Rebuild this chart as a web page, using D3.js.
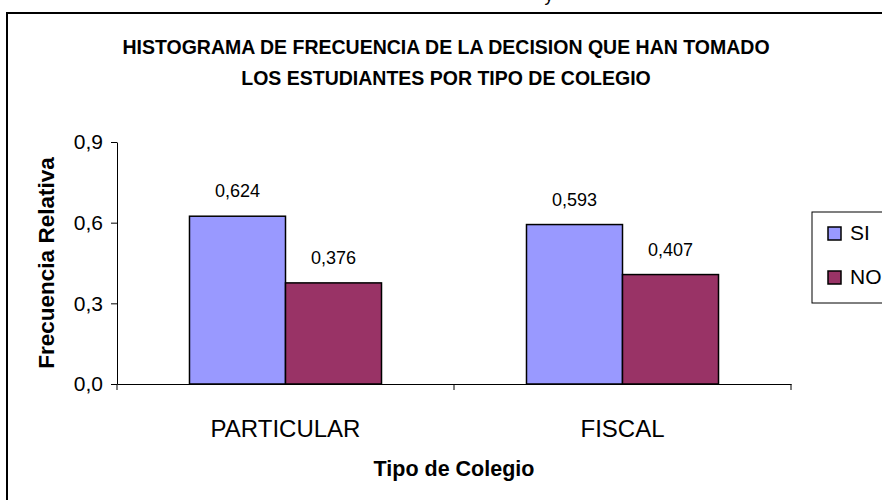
<!DOCTYPE html>
<html>
<head>
<meta charset="utf-8">
<script src="https://cdn.jsdelivr.net/npm/d3@7"></script>
<style>
    html, body { margin: 0; padding: 0; background: #fff; }
    svg { display: block; font-family: "Liberation Sans", Arial, sans-serif; }
</style>
</head>
<body>
<div id="chart"></div>
<script>
const categories = ['PARTICULAR', 'FISCAL']
const series = ['SI', 'NO']
const siValues = [0.624, 0.593]
const noValues = [0.376, 0.407]
const yTicks = [0, 0.3, 0.6, 0.9]
const seriesColors = { SI: '#9999ff', NO: '#993366' }

const locale = d3.formatLocale({ decimal: ',', thousands: '.', grouping: [3], currency: ['', ''] })
const fmtTick = locale.format('.1f')
const fmtVal = locale.format('.3f')

const w = 882
const h = 500
const plot = { left: 117, right: 791, top: 142, bottom: 384 }

const svg = d3.select('#chart').append('svg').attr('width', w).attr('height', h)

// outer chart frame (cut off on the right and bottom)
svg.append('rect')
    .attr('x', 7).attr('y', 13)
    .attr('width', 900).attr('height', 520)
    .attr('fill', 'none').attr('stroke', '#000').attr('stroke-width', 2)

// stray descender from the text above the frame
svg.append('text')
    .attr('x', 549).attr('y', 1)
    .attr('text-anchor', 'middle')
    .attr('font-size', '18px')
    .text('y')

// title
const title = svg.append('text')
    .attr('text-anchor', 'middle')
    .attr('font-size', '19.5px')
    .attr('font-weight', 'bold')
title.append('tspan').attr('x', 446).attr('y', 54).text('HISTOGRAMA DE FRECUENCIA DE LA DECISION QUE HAN TOMADO')
title.append('tspan').attr('x', 446).attr('y', 85).text('LOS ESTUDIANTES POR TIPO DE COLEGIO')

const x0 = d3.scaleBand()
    .domain(categories)
    .range([plot.left, plot.right])
    .paddingInner(0).paddingOuter(0)

const x1 = d3.scaleBand()
    .domain(series)
    .range([0, x0.bandwidth()])
    .paddingInner(0).paddingOuter(0.755)

const y = d3.scaleLinear()
    .domain([0, 0.9])
    .range([plot.bottom, plot.top])

const rows = categories.map((c, i) => ({ cat: c, values: [
    { key: 'SI', value: siValues[i] },
    { key: 'NO', value: noValues[i] }
] }))

// bars
const groups = svg.selectAll('.group')
    .data(rows).enter()
    .append('g')
    .attr('transform', d => `translate(${x0(d.cat)},0)`)

groups.selectAll('rect')
    .data(d => d.values).enter()
    .append('rect')
    .attr('x', d => x1(d.key))
    .attr('y', d => y(d.value))
    .attr('width', x1.bandwidth())
    .attr('height', d => y(0) - y(d.value))
    .attr('fill', d => seriesColors[d.key])
    .attr('stroke', '#000')
    .attr('stroke-width', 1.5)

groups.selectAll('.bar-label')
    .data(d => d.values).enter()
    .append('text')
    .attr('x', d => x1(d.key) + x1.bandwidth() / 2)
    .attr('y', d => y(d.value) - 19)
    .attr('text-anchor', 'middle')
    .attr('font-size', '18px')
    .text(d => fmtVal(d.value))

// y axis
const yAxis = svg.append('g')
    .attr('transform', `translate(${plot.left},0)`)
    .call(d3.axisLeft(y).tickValues(yTicks).tickFormat(fmtTick).tickSizeInner(6).tickSizeOuter(0).tickPadding(8))
yAxis.selectAll('text').attr('font-size', '21px').attr('fill', '#000').attr('font-family', '"Liberation Sans", Arial, sans-serif')
yAxis.selectAll('line, path').attr('stroke', '#000')

// x axis
const xAxis = svg.append('g')
    .attr('transform', `translate(0,${plot.bottom})`)
    .call(d3.axisBottom(x0).tickSize(0).tickPadding(36))
xAxis.selectAll('text').attr('font-size', '24px').attr('fill', '#000').attr('font-family', '"Liberation Sans", Arial, sans-serif')
xAxis.select('path').attr('stroke', '#000')

// tick marks between categories
const edges = categories.map(c => x0(c)).concat([plot.right])
xAxis.selectAll('.edge-tick')
    .data(edges).enter()
    .append('line')
    .attr('x1', d => d).attr('x2', d => d)
    .attr('y1', 0).attr('y2', 6)
    .attr('stroke', '#000')

// axis titles
svg.append('text')
    .attr('transform', `translate(54,${(plot.top + plot.bottom) / 2}) rotate(-90)`)
    .attr('text-anchor', 'middle')
    .attr('font-size', '22.5px')
    .attr('font-weight', 'bold')
    .text('Frecuencia Relativa')

svg.append('text')
    .attr('x', (plot.left + plot.right) / 2)
    .attr('y', 476)
    .attr('text-anchor', 'middle')
    .attr('font-size', '21.5px')
    .attr('font-weight', 'bold')
    .text('Tipo de Colegio')

// legend (cut off on the right)
const legend = svg.append('g').attr('transform', 'translate(812,212)')
legend.append('rect')
    .attr('width', 100).attr('height', 91)
    .attr('fill', '#fff').attr('stroke', '#000').attr('stroke-width', 1)
series.forEach((s, i) => {
    const row = legend.append('g').attr('transform', `translate(16, ${15 + i * 44})`)
    row.append('rect').attr('width', 13).attr('height', 13)
        .attr('fill', seriesColors[s]).attr('stroke', '#000').attr('stroke-width', 1.5)
    row.append('text').attr('x', 22).attr('y', 13)
        .attr('font-size', '21px')
        .text(s)
})
</script>
</body>
</html>
